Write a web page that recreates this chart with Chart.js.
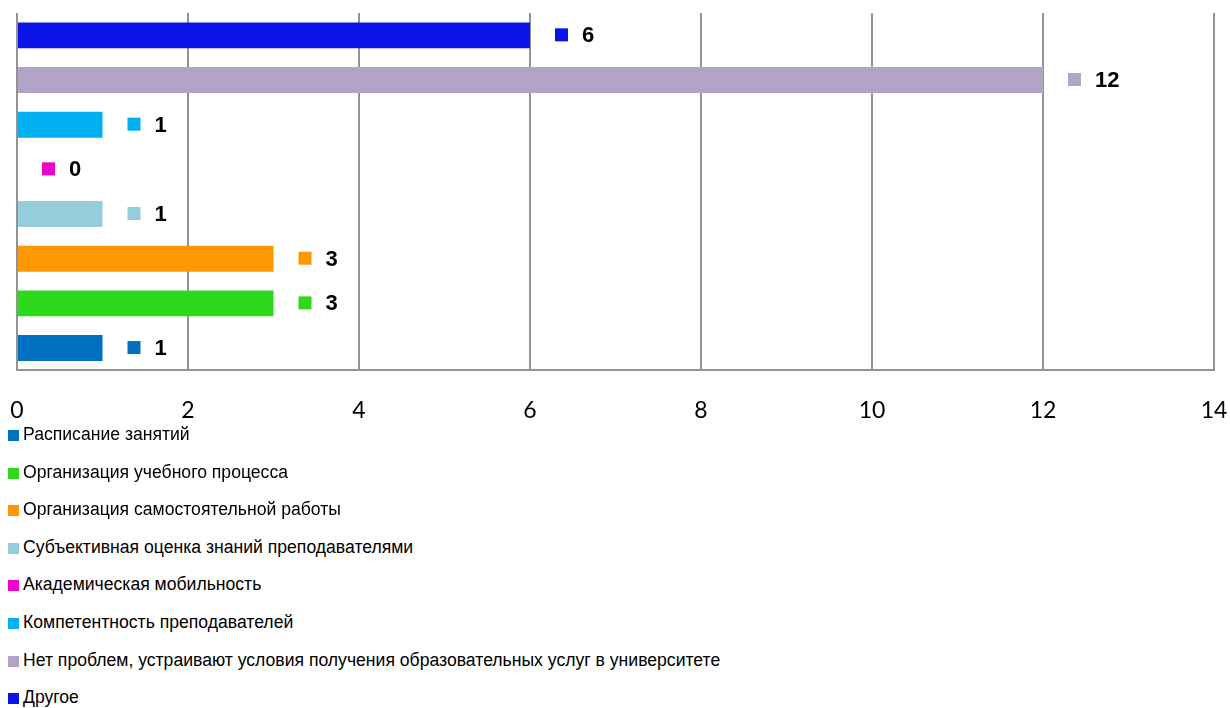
<!DOCTYPE html>
<html>
<head>
<meta charset="utf-8">
<script src="https://cdn.jsdelivr.net/npm/chart.js@4/dist/chart.umd.min.js"></script>
<style>
  body { margin: 0; background: #fff; width: 1230px; height: 708px; overflow: hidden; position: relative; }
  #chart { position: absolute; left: 0; top: 0; }
  #legend { position: absolute; left: 0; top: 0; font-family: "Liberation Sans", Arial, sans-serif; font-size: 17.6px; color: #000; }
  .item { position: absolute; left: 8px; height: 20px; line-height: 20px; white-space: nowrap; }
  .box { display: inline-block; width: 11px; height: 11px; margin-right: 4px; vertical-align: -1px; }
</style>
</head>
<body>
<canvas id="chart" width="1230" height="459"></canvas>
<div id="legend"></div>
<script>
// порядок как в легенде (снизу вверх на графике)
const categories = [
    'Расписание занятий',
    'Организация учебного процесса',
    'Организация самостоятельной работы',
    'Субъективная оценка знаний преподавателями',
    'Академическая мобильность',
    'Компетентность преподавателей',
    'Нет проблем, устраивают условия получения образовательных услуг в университете',
    'Другое'
];
const values = [1, 3, 3, 1, 0, 1, 12, 6];
const colors = ['#0070c0', '#2dd91b', '#fd9800', '#95cddc', '#ef00cc', '#00b0f0', '#b2a3c7', '#0a14e6'];
const xTicks = [0, 2, 4, 6, 8, 10, 12, 14];

// первый датасет рисуется сверху, поэтому разворачиваем
const datasets = categories.map((name, i) => ({
    label: name,
    data: [values[i]],
    backgroundColor: colors[i],
    borderWidth: 0,
    categoryPercentage: 1,
    barPercentage: 0.58
})).reverse();

const valueLabels = {
    id: 'valueLabels',
    afterDatasetsDraw(chart) {
        const ctx = chart.ctx;
        ctx.save();
        ctx.font = 'bold 22px "Liberation Sans", Arial, sans-serif';
        ctx.textBaseline = 'middle';
        chart.data.datasets.forEach((ds, i) => {
            const bar = chart.getDatasetMeta(i).data[0];
            ctx.fillStyle = ds.backgroundColor;
            ctx.fillRect(bar.x + 25, bar.y - 7, 13, 13);
            ctx.fillStyle = '#000';
            ctx.fillText(String(ds.data[0]), bar.x + 52, bar.y + 1);
        });
        ctx.restore();
    }
};

new Chart(document.getElementById('chart'), {
    type: 'bar',
    data: { labels: [''], datasets: datasets },
    options: {
        indexAxis: 'y',
        responsive: false,
        devicePixelRatio: 1,
        animation: false,
        layout: { padding: { left: 17, right: 16, top: 13, bottom: 9 } },
        plugins: { legend: { display: false }, tooltip: { enabled: false } },
        scales: {
            x: {
                min: 0,
                max: 14,
                afterBuildTicks: scale => { scale.ticks = xTicks.map(v => ({ value: v })); },
                afterFit: scale => { scale.paddingLeft = 0; scale.paddingRight = 0; },
                grid: { color: '#939393', lineWidth: 2, drawTicks: false },
                border: { color: '#939393', width: 2 },
                ticks: { padding: 26, color: '#000', font: { family: 'Lato', size: 23 } }
            },
            y: { display: false }
        }
    },
    plugins: [valueLabels]
});

// легенда столбиком под графиком
const legend = document.getElementById('legend');
categories.forEach((name, i) => {
    const row = document.createElement('div');
    row.className = 'item';
    row.style.top = (434 + i * 37.6 - 10) + 'px';
    row.innerHTML = `<span class="box" style="background:${colors[i]}"></span>${name}`;
    legend.appendChild(row);
});
</script>
</body>
</html>
